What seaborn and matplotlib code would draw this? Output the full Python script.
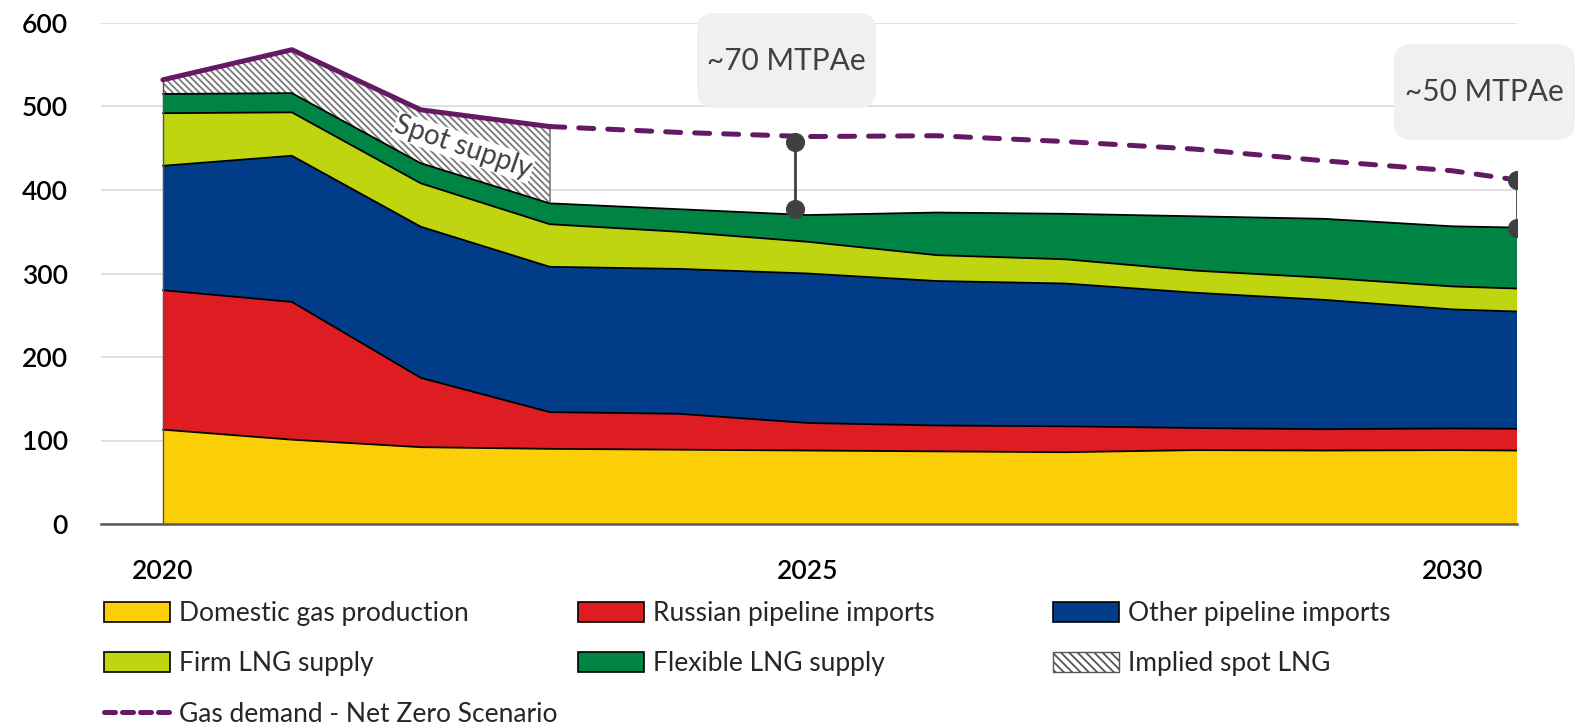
import numpy as np
import matplotlib
matplotlib.use("Agg")
import matplotlib.pyplot as plt
from matplotlib.patches import FancyBboxPatch, Patch
from matplotlib.lines import Line2D
from matplotlib.transforms import IdentityTransform
import seaborn as sns

# ---- data (MTPAe) ----
years = [2020, 2021, 2022, 2023, 2024, 2025, 2026, 2027, 2028, 2029, 2030, 2030.5]
domestic = [113, 101, 92, 90, 89, 88, 87, 86, 88.5, 88, 88.5, 88]
russian = [167, 165, 83, 44, 43, 33, 31, 31, 26.5, 25.5, 26, 26]
other_pipeline = [149, 175, 181, 174, 173.5, 179, 173, 171, 162, 155, 142.5, 140.5]
firm_lng = [63, 52, 52, 51, 44.5, 38, 31, 29, 26.5, 26.5, 27.5, 27.5]
flexible_lng = [23, 23, 24, 25, 27, 32, 51, 54.5, 65, 70.5, 72, 73]
demand = [532, 568, 496, 476, 469, 464, 465, 458, 449, 435, 423, 412]
n_spot = 4  # implied spot LNG shown for 2020-2023

gap_x = [2024.9, 2030.5]
gap_low = [377, 355]
gap_high = [458, 412]
gap_labels = ["~70 MTPAe", "~50 MTPAe"]

series_names = ["Domestic gas production", "Russian pipeline imports",
                "Other pipeline imports", "Firm LNG supply", "Flexible LNG supply"]
series_values = [domestic, russian, other_pipeline, firm_lng, flexible_lng]
series_colors = ["#FBCE07", "#DD1D21", "#003C88", "#BED50F", "#008443"]
purple = "#641964"
ink = "#404040"

# ---- style ----
sns.set_theme(style="white")
plt.rcParams["font.family"] = ["Lato", "DejaVu Sans"]
plt.rcParams["hatch.color"] = "#7a7a7a"
plt.rcParams["hatch.linewidth"] = 1.3

W, H = 1588, 728
fig = plt.figure(figsize=(W / 100, H / 100), dpi=100)
ax = fig.add_axes([101 / W, 1 - 524 / H, (1517 - 101) / W, (524 - 23) / H])

x = np.array(years, dtype=float)
tops = np.cumsum(np.array(series_values, dtype=float), axis=0)
bottoms = np.vstack([np.zeros(len(x)), tops[:-1]])

for lo, hi, col in zip(bottoms, tops, series_colors):
    ax.fill_between(x, lo, hi, facecolor=col, edgecolor="none", linewidth=0, zorder=2)
for hi in tops:
    ax.plot(x, hi, color="black", linewidth=1.3, zorder=3)

# implied spot LNG between contracted supply and demand
supply_total = tops[-1]
dem = np.array(demand, dtype=float)
ax.fill_between(x[:n_spot], supply_total[:n_spot], dem[:n_spot], facecolor="white",
                edgecolor="#7a7a7a", hatch="\\\\\\\\\\", linewidth=0, zorder=2)
ax.vlines(x[n_spot - 1], supply_total[n_spot - 1], dem[n_spot - 1], color="#7a7a7a",
          linewidth=1.2, zorder=3)
ax.vlines(x[0], 0, dem[0], color="#555555", linewidth=1.0, zorder=3)

# demand: solid over the historical spot period, dashed afterwards
sns.lineplot(x=x[:n_spot], y=dem[:n_spot], ax=ax, color=purple, linewidth=3.6,
             solid_capstyle="round", zorder=5)
sns.lineplot(x=x[n_spot - 1:], y=dem[n_spot - 1:], ax=ax, color=purple, linewidth=3.6,
             linestyle=(0, (3.0, 2.8)), dash_capstyle="round", zorder=5)

# supply gap brackets
for gx, lo, hi in zip(gap_x, gap_low, gap_high):
    ax.plot([gx, gx], [lo, hi], color=ink, linewidth=2.0, zorder=6)
    ax.scatter([gx, gx], [lo, hi], s=190, color=ink, zorder=7, linewidths=0)

ax.text(2022.33, 451, "Spot supply", rotation=-19, ha="center", va="center",
        fontsize=20, color=ink, zorder=6,
        bbox=dict(facecolor="white", edgecolor="none", pad=0.5))

# axes
ax.set_xlim(2019.52, 2030.5)
ax.set_ylim(0, 600)
ax.set_yticks(range(0, 601, 100))
ax.set_xticks([2020, 2025, 2030])
ax.set_xticklabels(["2020", "2025", "2030"])
ax.tick_params(axis="y", length=0, pad=24, labelsize=19, labelcolor="black")
ax.tick_params(axis="x", length=0, pad=25, labelsize=19, labelcolor="black")
for lab in ax.get_xticklabels() + ax.get_yticklabels():
    lab.set_fontweight("semibold")
ax.grid(axis="y", color="#D9D9D9", linewidth=1.2, zorder=0)
ax.set_axisbelow(True)
for side in ["left", "right", "top"]:
    ax.spines[side].set_visible(False)
ax.spines["bottom"].set_color("#595959")
ax.spines["bottom"].set_linewidth(1.8)
ax.spines["bottom"].set_zorder(8)

# gap callout boxes
callouts = [(697, 620, 179, 95), (1394, 588, 181, 96)]
for (bx, by, bw, bh), txt in zip(callouts, gap_labels):
    box = FancyBboxPatch((bx, by), bw, bh, boxstyle="round,pad=0,rounding_size=18",
                         transform=IdentityTransform(), facecolor="#F0F0F0",
                         edgecolor="none", zorder=10)
    fig.add_artist(box)
    fig.text((bx + bw / 2) / W, (by + bh / 2) / H, txt, ha="center", va="center",
             fontsize=21.5, color=ink, zorder=11)

# legend, laid out as three columns
patches = [Patch(facecolor=c, edgecolor="black", linewidth=1.2) for c in series_colors]
spot_patch = Patch(facecolor="white", edgecolor="#555555", hatch="\\\\\\\\", linewidth=1.0)
demand_line = Line2D([], [], color=purple, linewidth=3.6, linestyle=(0, (2.2, 1.4)),
                     dash_capstyle="round")
columns = [
    ([patches[0], patches[3], demand_line],
     [series_names[0], series_names[3], "Gas demand - Net Zero Scenario"], 104),
    ([patches[1], patches[4]], [series_names[1], series_names[4]], 578),
    ([patches[2], spot_patch], [series_names[2], "Implied spot LNG"], 1053),
]
for handles, labels, px in columns:
    fig.legend(handles, labels, loc="upper left", bbox_to_anchor=(px / W, 1 - 601 / H),
               frameon=False, fontsize=19, handlelength=2.5, handleheight=0.76,
               handletextpad=0.33, labelspacing=0.96, borderpad=0, borderaxespad=0)

fig.savefig("out.png", dpi=100)
